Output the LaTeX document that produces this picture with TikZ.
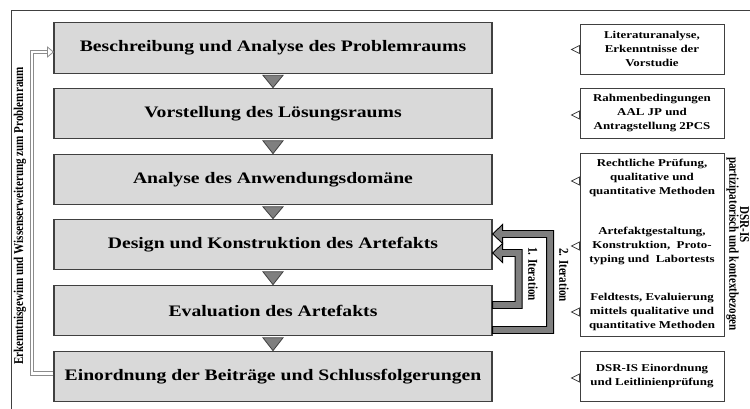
\documentclass[tikz,border=0pt]{standalone}
\usepackage{fontspec}
\setmainfont{Liberation Serif}
\newfontfamily\boxfont[FakeStretch=1.23]{Liberation Serif}
\newfontfamily\condfont[FakeStretch=0.82]{Liberation Serif}
\usepackage{xcolor}
\usepackage{tikz}
\usetikzlibrary{calc}
\definecolor{boxgray}{HTML}{D9D9D9}
\definecolor{framegray}{HTML}{404040}
\definecolor{tipgray}{HTML}{7F7F7F}
\definecolor{linegray}{HTML}{8C8C8C}
\tikzset{
  mainbox/.style={draw=framegray, line width=1.2pt, fill=boxgray, minimum width=438pt, minimum height=50.5pt, inner sep=0pt, font=\boxfont\bfseries\fontsize{16}{18}\selectfont},
  infobox/.style={draw=framegray, line width=0.9pt, fill=white, minimum width=144pt, minimum height=50pt, inner sep=0pt, align=center, font=\boxfont\bfseries\fontsize{10.5}{13.8}\selectfont},
  infotext/.style={align=center, inner sep=0pt, font=\boxfont\bfseries\fontsize{10.5}{13.8}\selectfont},
  sidetext/.style={inner sep=0pt, font=\condfont\bfseries\fontsize{13.5}{15}\selectfont},
  flowtri/.style={draw=framegray, line width=0.8pt, fill=tipgray},
  pointer/.style={draw=framegray, line width=0.8pt, fill=white},
  backline/.style={draw=linegray, double=white, double distance=2.2pt, line width=1pt},
  iterarrow/.style={draw=black, line width=0.9pt, fill=tipgray, line join=miter},
}
\def\shaft{3.5pt}
\newcommand{\iterpath}[3]{%
  \filldraw[iterarrow] let \p1=(#1), \p2=(#2) in
    (\x1,\y1-\shaft) -- (\x1+#3+\shaft,\y1-\shaft) -- (\x1+#3+\shaft,\y2+\shaft)
    -- (\x2+10pt,\y2+\shaft) -- (\x2+10pt,\y2+9.5pt) -- (\x2,\y2) -- (\x2+10pt,\y2-9.5pt)
    -- (\x2+10pt,\y2-\shaft) -- (\x1+#3-\shaft,\y2-\shaft) -- (\x1+#3-\shaft,\y1+\shaft)
    -- (\x1,\y1+\shaft) -- cycle;}

\begin{document}
\begin{tikzpicture}[x=1pt, y=1pt]
  \useasboundingbox (0,0) rectangle (750,409);
  % Frame
  \draw[framegray, line width=0.8pt] (11,0) -- (11,399) -- (750,399);
  % Phases
  \node[mainbox] (b1) at (273,361) {Beschreibung und Analyse des Problemraums};
  \node[mainbox] (b2) at (273,295.5) {Vorstellung des Lösungsraums};
  \node[mainbox] (b3) at (273,229.5) {Analyse des Anwendungsdomäne};
  \node[mainbox] (b4) at (273,164.5) {Design und Konstruktion des Artefakts};
  \node[mainbox] (b5) at (273,98.5) {Evaluation des Artefakts};
  \node[mainbox] (b6) at (273,32.5) {Einordnung der Beiträge und Schlussfolgerungen};
  \foreach \a/\b in {b1/b2, b2/b3, b3/b4, b4/b5, b5/b6}
    \draw[flowtri] ($(\a.south)+(-10,-1.5)$) -- ($(\a.south)+(10,-1.5)$) -- (\b.north) -- cycle;
  % Methods
  \node[infobox] (r1) at (652,360) {Literaturanalyse,\\Erkenntnisse der\\Vorstudie};
  \node[infobox] (r2) at (652,296) {Rahmenbedingungen\\AAL JP und\\Antragstellung 2PCS};
  \node[infobox, minimum height=183pt] (r3) at (652,164.5) {};
  \node[infotext] (r3a) at (652,231) {Rechtliche Prüfung,\\qualitative und\\quantitative Methoden};
  \node[infotext] (r3b) at (652,163) {Artefaktgestaltung,\\Konstruktion,\ \ Proto-\\typing und\ \ Labortests};
  \node[infotext] (r3c) at (652,97) {Feldtests, Evaluierung\\mittels qualitative und\\quantitative Methoden};
  \node[infobox] (r4) at (652,33) {DSR-IS Einordnung\\und Leitlinienprüfung};
  \foreach \r/\b in {r1/b1, r2/b2, r3/b3, r3/b4, r3/b5, r4/b6}
    \draw[pointer] ($(\r.west |- \b.east)+(0,2.5)$) -- ($(\r.west |- \b.east)+(-8,-1.5)$) -- ($(\r.west |- \b.east)+(0,-5.5)$) -- cycle;
  \node[sidetext, rotate=-90] (ctx) at (732.5,165) {partizipatorisch und kontextbezogen};
  \node[sidetext, rotate=-90] (dsr) at (744.5,184) {DSR-IS};
  % Iterations
  \coordinate (i1s) at ($(b5.east)+(0,5.5)$);
  \coordinate (i1e) at ($(b4.east)+(0,-8.5)$);
  \coordinate (i2s) at ($(b5.east)+(0,-19.5)$);
  \coordinate (i2e) at ($(b4.east)+(0,10.5)$);
  \iterpath{i2s}{i2e}{57.5pt}
  \iterpath{i1s}{i1e}{26pt}
  \node[sidetext, rotate=-90] (it1) at (533,135) {1. Iteration};
  \node[sidetext, rotate=-90] (it2) at (564,134) {2. Iteration};
  % Feedback
  \draw[backline] ($(b6.west)+(0,3)$) -| ($(b1.west)+(-21.5,-4)$) -- ($(b1.west)+(-6,-4)$);
  \draw[pointer, draw=linegray] ($(b1.west)+(-6,1)$) -- ($(b1.west)+(0,-4)$) -- ($(b1.west)+(-6,-9)$) -- cycle;
  \node[sidetext, rotate=90] (fb) at (20,193) {Erkenntnisgewinn und Wissenserweiterung zum Problemraum};
\end{tikzpicture}
\end{document}
